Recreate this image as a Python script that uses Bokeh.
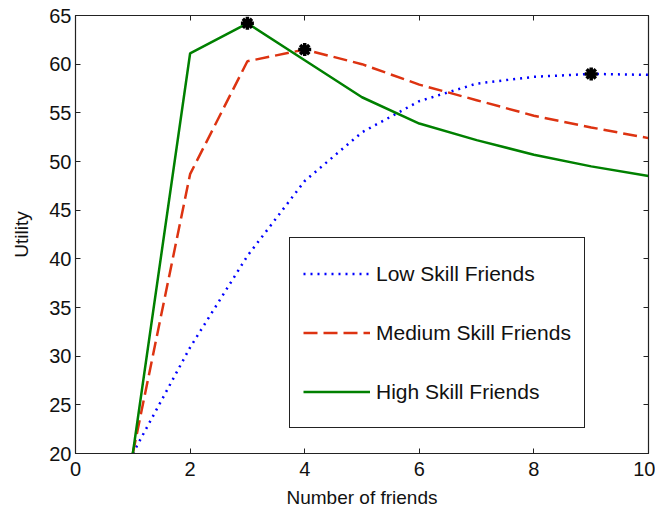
from bokeh.plotting import figure
from bokeh.models import (Range1d, LinearAxis, FixedTicker, Legend, LegendItem,
                          ColumnDataSource)
from bokeh.embed import file_html
from bokeh.resources import INLINE

# Number of friends and the utility of each friend type
friends = [1, 2, 3, 4, 5, 6, 7, 8, 9, 10]
low_skill = [20.0, 30.9, 40.3, 48.0, 53.0, 56.2, 58.0, 58.7, 59.0, 58.9]
medium_skill = [20.0, 48.7, 60.3, 61.5, 60.0, 57.9, 56.3, 54.7, 53.5, 52.4]
high_skill = [20.0, 61.1, 64.2, 60.4, 56.6, 53.9, 52.2, 50.7, 49.5, 48.5]

# Optimal group size for each friend type
best_x = [3, 4, 9]
best_y = [64.2, 61.5, 59.0]

x_ticks = [0, 2, 4, 6, 8, 10]
y_ticks = [20, 25, 30, 35, 40, 45, 50, 55, 60, 65]

FONT = "Liberation Sans"

p = figure(width=655, height=510, output_backend="svg", toolbar_location=None,
           x_range=Range1d(0, 10), y_range=Range1d(20, 65),
           min_border_left=75, min_border_right=7, min_border_top=15,
           min_border_bottom=57, x_axis_location=None, y_axis_location=None)
p.grid.visible = False
p.outline_line_color = "#222222"
p.outline_line_width = 1.2
p.background_fill_color = "white"
p.border_fill_color = "white"


def make_axis(ticks, label=None, show_labels=True, standoff=4, label_standoff=8):
    ax = LinearAxis(ticker=FixedTicker(ticks=ticks))
    ax.major_tick_in = 5
    ax.major_tick_out = 0
    ax.minor_tick_line_color = None
    ax.axis_line_color = "#222222"
    ax.major_tick_line_color = "#222222"
    ax.major_label_text_font = FONT
    ax.major_label_text_font_size = "20px"
    ax.major_label_text_color = "#111111" if show_labels else None
    ax.major_label_standoff = standoff
    if label:
        ax.axis_label = label
        ax.axis_label_text_font = FONT
        ax.axis_label_text_font_size = "19px"
        ax.axis_label_text_font_style = "normal"
        ax.axis_label_text_color = "#111111"
        ax.axis_label_standoff = label_standoff
    return ax


p.add_layout(make_axis(x_ticks, "Number of friends", standoff=8, label_standoff=8), "below")
p.add_layout(make_axis(y_ticks, "Utility", standoff=4, label_standoff=14), "left")
p.add_layout(make_axis(x_ticks, show_labels=False), "above")
p.add_layout(make_axis(y_ticks, show_labels=False), "right")

src = ColumnDataSource(dict(x=friends, low=low_skill, med=medium_skill, high=high_skill))

r_low = p.line("x", "low", source=src, line_color="#0000FF", line_width=2.5,
               line_dash="2 5", line_cap="butt")
r_med = p.line("x", "med", source=src, line_color="#DD3311", line_width=2.5,
               line_dash="14 6", line_cap="butt")
r_high = p.line("x", "high", source=src, line_color="#008000", line_width=2.5)

p.scatter(best_x, best_y, marker="asterisk", size=13, line_color="black",
          line_width=3.5)

legend = Legend(items=[
    LegendItem(label="Low Skill Friends", renderers=[r_low]),
    LegendItem(label="Medium Skill Friends", renderers=[r_med]),
    LegendItem(label="High Skill Friends", renderers=[r_high]),
], location=(214, 25))
legend.label_text_font = FONT
legend.label_text_font_size = "21px"
legend.label_text_color = "#111111"
legend.glyph_width = 67
legend.glyph_height = 45
legend.label_height = 45
legend.label_standoff = 6
legend.spacing = 14
legend.padding = 13
legend.margin = 0
legend.border_line_color = "#222222"
legend.border_line_alpha = 1.0
legend.border_line_width = 1.2
legend.background_fill_alpha = 1
p.add_layout(legend, "center")

open("out.html", "w").write(file_html(p, INLINE))
